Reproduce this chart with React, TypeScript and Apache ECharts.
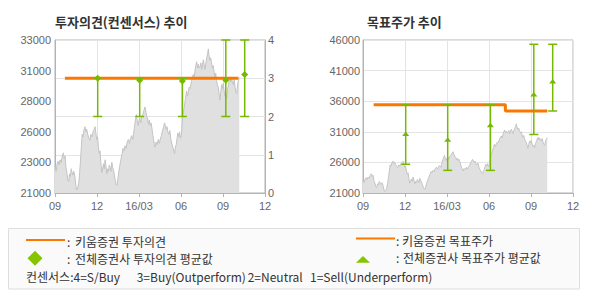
import React, { useEffect, useRef } from 'react';
import * as echarts from 'echarts';

// ---------- data ----------
const xTickLabels = ['09', '12', '16/03', '06', '09', '12'];
const opinionPriceTicks = ['21000', '23000', '26000', '28000', '31000', '33000'];
const targetPriceTicks = ['21000', '26000', '31000', '36000', '41000', '46000'];
const PRICE_BASE = 21000;

// [month offset from 2015-09, close price]
const priceSeries: [number, number][] = [
  [0.0, 23100], [0.08, 22700], [0.15, 23300], [0.22, 23500], [0.3, 23200], [0.36, 23600],
  [0.44, 23400], [0.52, 23900], [0.6, 24150], [0.66, 23700], [0.72, 23900], [0.78, 23000],
  [0.85, 22600], [0.92, 22000], [0.98, 21900], [1.04, 22500], [1.1, 22300], [1.16, 22900],
  [1.22, 22600], [1.28, 22400], [1.34, 22700], [1.42, 22300], [1.5, 21500], [1.56, 21250],
  [1.62, 21400], [1.7, 21800], [1.76, 22600], [1.82, 23500], [1.88, 24600], [1.94, 25600],
  [2.0, 25400], [2.06, 25900], [2.14, 26200], [2.2, 25800], [2.26, 26000], [2.34, 25600],
  [2.42, 25300], [2.5, 25150], [2.56, 25600], [2.64, 25400], [2.72, 25800], [2.8, 26000],
  [2.86, 26200], [2.92, 25700], [2.98, 25200], [3.04, 25400], [3.1, 24600], [3.16, 24100],
  [3.22, 24300], [3.28, 23300], [3.34, 22600], [3.4, 22900], [3.46, 23300], [3.52, 22900],
  [3.58, 23600], [3.64, 23100], [3.7, 22500], [3.76, 22900], [3.82, 22700], [3.88, 23200],
  [3.94, 23000], [4.0, 22700], [4.06, 23400], [4.12, 23000], [4.18, 22800], [4.24, 22400],
  [4.3, 22000], [4.36, 21700], [4.42, 21600], [4.48, 22000], [4.54, 22500], [4.6, 23000],
  [4.66, 23300], [4.72, 23700], [4.8, 24100], [4.86, 24500], [4.92, 24300], [5.0, 24700],
  [5.08, 24500], [5.16, 25000], [5.24, 25200], [5.32, 24900], [5.4, 25300], [5.48, 25500],
  [5.56, 25200], [5.62, 25700], [5.7, 26400], [5.76, 26800], [5.82, 27150], [5.88, 26600],
  [5.94, 26300], [6.0, 26700], [6.06, 26900], [6.12, 26500], [6.2, 27000], [6.28, 27200],
  [6.36, 27500], [6.43, 27750], [6.5, 27300], [6.56, 27000], [6.62, 26800], [6.68, 26400],
  [6.74, 26700], [6.8, 26300], [6.86, 26500], [6.92, 26100], [6.98, 25600], [7.04, 25200],
  [7.1, 24800], [7.16, 24600], [7.22, 25000], [7.3, 24800], [7.38, 25200], [7.46, 24900],
  [7.52, 25200], [7.6, 25500], [7.68, 25900], [7.76, 26200], [7.82, 26500], [7.88, 26300],
  [7.94, 26000], [8.0, 26200], [8.06, 25800], [8.12, 25600], [8.2, 25900], [8.28, 25200],
  [8.36, 24800], [8.42, 24600], [8.48, 24300], [8.54, 24100], [8.6, 24600], [8.66, 24800],
  [8.72, 25300], [8.78, 25700], [8.84, 25400], [8.9, 25800], [8.96, 25300], [9.02, 25500],
  [9.08, 26300], [9.14, 27200], [9.2, 27500], [9.26, 28000], [9.32, 28400], [9.4, 29000],
  [9.46, 28600], [9.52, 28900], [9.58, 29300], [9.64, 29200], [9.7, 29500], [9.76, 29800],
  [9.82, 30100], [9.88, 30300], [9.94, 30000], [10.0, 30600], [10.06, 31000], [10.12, 31300],
  [10.18, 30800], [10.24, 31100], [10.3, 30800], [10.36, 30900], [10.42, 31200], [10.48, 30700],
  [10.54, 31100], [10.6, 31450], [10.66, 31000], [10.72, 30700], [10.78, 31200], [10.84, 31600],
  [10.9, 31900], [10.95, 32300], [11.0, 31800], [11.06, 31400], [11.12, 31600], [11.18, 31200],
  [11.24, 30800], [11.3, 31000], [11.36, 30500], [11.42, 30100], [11.48, 30400], [11.54, 29800],
  [11.6, 29500], [11.66, 29300], [11.72, 28800], [11.78, 28300], [11.84, 28900], [11.9, 29500],
  [11.96, 29200], [12.02, 29600], [12.08, 29000], [12.14, 28600], [12.2, 28800], [12.26, 28400],
  [12.32, 29100], [12.38, 29400], [12.44, 29800], [12.5, 30100], [12.56, 29700], [12.62, 30000],
  [12.68, 29600], [12.74, 29500], [12.8, 29900], [12.86, 29300], [12.92, 28900], [12.98, 28800],
  [13.04, 29500], [13.1, 29800], [13.16, 30050],
];

const kiwoomOpinion: [number, number][] = [[0.71, 3], [13.1, 3]];
const kiwoomTarget: [number, number][] = [[0.76, 35400], [10.17, 35400], [10.17, 34400], [13.17, 34400]];

const consensusMonths = [3.05, 6.05, 9.1, 12.2, 13.55];
const opinionLow = [2, 2, 2, 2, 2];
const opinionHigh = [3, 3, 3, 4, 4];
const opinionMean = [3.0, 2.95, 2.93, 2.95, 3.1];
const targetLow = [25700, 24700, 24700, 30560, 34400];
const targetHigh = [35400, 35400, 35400, 45300, 45300];
const targetMean = [30560, 29630, 31970, 37000, 39120];

// ---------- styles ----------
const ORANGE = '#fa7800';
const GREEN = '#76b900';
const LEGEND_GREEN = '#84c400';
const BORDER = '#b4b4b4';
const GRIDLINE = '#e4e4e4';
const KR = '"Noto Sans CJK KR", sans-serif';
const axisLabelStyle = { color: '#666', fontSize: 11, fontFamily: '"Liberation Sans", Arial, sans-serif' };

const makeErrorBar = (marker: 'diamond' | 'triangle') => (_params: any, api: any) => {
  const x = api.value(0);
  const lo = api.coord([x, api.value(1)]);
  const hi = api.coord([x, api.value(2)]);
  const mid = api.coord([x, api.value(3)]);
  const cap = 4.5;
  const ls = { stroke: GREEN, lineWidth: 1.5 };
  const markerEl =
    marker === 'diamond'
      ? {
          type: 'polygon',
          shape: { points: [[mid[0], mid[1] - 3.5], [mid[0] + 3.5, mid[1]], [mid[0], mid[1] + 3.5], [mid[0] - 3.5, mid[1]]] },
          style: { fill: GREEN },
        }
      : {
          type: 'polygon',
          shape: { points: [[mid[0] - 3.5, mid[1] + 1.5], [mid[0] + 3.5, mid[1] + 1.5], [mid[0], mid[1] - 3]] },
          style: { fill: GREEN },
        };
  return {
    type: 'group',
    children: [
      { type: 'line', shape: { x1: lo[0], y1: lo[1], x2: hi[0], y2: hi[1] }, style: ls },
      { type: 'line', shape: { x1: lo[0] - cap, y1: lo[1], x2: lo[0] + cap, y2: lo[1] }, style: ls },
      { type: 'line', shape: { x1: hi[0] - cap, y1: hi[1], x2: hi[0] + cap, y2: hi[1] }, style: ls },
      markerEl,
    ],
  };
};

const xAxisFor = (gridIndex: number) => ({
  type: 'value',
  gridIndex,
  min: 0,
  max: 15,
  interval: 3,
  axisLine: { show: true, lineStyle: { color: BORDER } },
  axisTick: { show: true, length: 4, lineStyle: { color: BORDER } },
  axisLabel: { ...axisLabelStyle, margin: 7, formatter: (v: number) => xTickLabels[Math.round(v / 3)] ?? '' },
  splitLine: { show: true, lineStyle: { color: GRIDLINE } },
});

const txt = (text: string, x: number, y: number, font: string, fill = '#333') => ({
  type: 'text',
  x,
  y,
  style: { text, font, fill, verticalAlign: 'middle', align: 'left' },
});

export default function App() {
  const ref = useRef<HTMLDivElement>(null);

  useEffect(() => {
    if (!ref.current) return;
    const chart = echarts.init(ref.current, undefined, { renderer: 'svg' });

    const legendFont = `12px ${KR}`;
    const option: any = {
      animation: false,
      backgroundColor: '#ffffff',
      grid: [
        { left: 55, top: 40, width: 210, height: 153, show: true, borderColor: BORDER, borderWidth: 1, backgroundColor: 'transparent' },
        { left: 363, top: 40, width: 210, height: 153, show: true, borderColor: BORDER, borderWidth: 1, backgroundColor: 'transparent' },
      ],
      xAxis: [xAxisFor(0), xAxisFor(1)],
      yAxis: [
        {
          type: 'value',
          gridIndex: 0,
          position: 'left',
          min: 0,
          max: 12000,
          interval: 2400,
          axisLine: { show: true, lineStyle: { color: BORDER } },
          axisTick: { show: false },
          axisLabel: { ...axisLabelStyle, margin: 4, formatter: (v: number) => opinionPriceTicks[Math.round(v / 2400)] ?? '' },
          splitLine: { show: false },
        },
        {
          type: 'value',
          gridIndex: 0,
          position: 'right',
          min: 0,
          max: 4,
          interval: 1,
          axisLine: { show: true, lineStyle: { color: BORDER } },
          axisTick: { show: false },
          axisLabel: { ...axisLabelStyle, margin: 3 },
          splitLine: { show: true, lineStyle: { color: GRIDLINE } },
        },
        {
          type: 'value',
          gridIndex: 1,
          position: 'left',
          min: 0,
          max: 25000,
          interval: 5000,
          axisLine: { show: true, lineStyle: { color: BORDER } },
          axisTick: { show: false },
          axisLabel: { ...axisLabelStyle, margin: 3, formatter: (v: number) => targetPriceTicks[Math.round(v / 5000)] ?? '' },
          splitLine: { show: true, lineStyle: { color: GRIDLINE } },
        },
      ],
      series: [
        {
          type: 'line',
          xAxisIndex: 0,
          yAxisIndex: 0,
          data: priceSeries.map(([m, p]) => [m, p - PRICE_BASE]),
          symbol: 'none',
          lineStyle: { color: '#c4c4c4', width: 1 },
          areaStyle: { color: '#e0e0e0', opacity: 1, origin: 'start' },
          z: 1,
        },
        {
          type: 'line',
          xAxisIndex: 0,
          yAxisIndex: 1,
          data: kiwoomOpinion,
          symbol: 'none',
          lineStyle: { color: ORANGE, width: 3 },
          z: 3,
        },
        {
          type: 'custom',
          xAxisIndex: 0,
          yAxisIndex: 1,
          data: consensusMonths.map((m, i) => [m, opinionLow[i], opinionHigh[i], opinionMean[i]]),
          encode: { x: 0, y: [1, 2, 3] },
          renderItem: makeErrorBar('diamond'),
          z: 4,
        },
        {
          type: 'line',
          xAxisIndex: 1,
          yAxisIndex: 2,
          data: priceSeries.map(([m, p]) => [m, p - PRICE_BASE]),
          symbol: 'none',
          lineStyle: { color: '#c4c4c4', width: 1 },
          areaStyle: { color: '#e0e0e0', opacity: 1, origin: 'start' },
          z: 1,
        },
        {
          type: 'line',
          xAxisIndex: 1,
          yAxisIndex: 2,
          data: kiwoomTarget.map(([m, p]) => [m, p - PRICE_BASE]),
          symbol: 'none',
          lineStyle: { color: ORANGE, width: 3 },
          z: 3,
        },
        {
          type: 'custom',
          xAxisIndex: 1,
          yAxisIndex: 2,
          data: consensusMonths.map((m, i) => [m, targetLow[i] - PRICE_BASE, targetHigh[i] - PRICE_BASE, targetMean[i] - PRICE_BASE]),
          encode: { x: 0, y: [1, 2, 3] },
          renderItem: makeErrorBar('triangle'),
          z: 4,
        },
      ],
      graphic: [
        txt('투자의견(컨센서스) 추이', 55, 21, `bold 13px ${KR}`),
        txt('목표주가 추이', 367, 21, `bold 13px ${KR}`),
        {
          type: 'rect',
          shape: { x: 8.5, y: 228.5, width: 571, height: 60.5 },
          style: { fill: '#fafafa', stroke: '#dedede', lineWidth: 1 },
        },
        { type: 'line', shape: { x1: 26, y1: 240, x2: 65, y2: 240 }, style: { stroke: ORANGE, lineWidth: 2 } },
        txt(':', 67, 241, legendFont),
        txt('키움증권 투자의견', 75, 241.5, legendFont),
        { type: 'line', shape: { x1: 356, y1: 238.5, x2: 395, y2: 238.5 }, style: { stroke: ORANGE, lineWidth: 2 } },
        txt(':', 396, 240, legendFont),
        txt('키움증권 목표주가', 402, 240.7, legendFont),
        {
          type: 'polygon',
          shape: { points: [[35, 250.8], [42.5, 258.3], [35, 265.8], [27.5, 258.3]] },
          style: { fill: LEGEND_GREEN },
        },
        txt(':', 67, 258, legendFont),
        txt('전체증권사 투자의견 평균값', 75, 258.3, legendFont),
        {
          type: 'polygon',
          shape: { points: [[356, 262.7], [370, 262.7], [363, 256]] },
          style: { fill: LEGEND_GREEN },
        },
        txt(':', 396, 257.5, legendFont),
        txt('전체증권사 목표주가 평균값', 403, 257.5, legendFont),
        txt('컨센서스:4=S/Buy', 26, 276.7, legendFont),
        txt('3=Buy(Outperform)', 136.7, 276.7, legendFont),
        txt('2=Neutral', 247.7, 276.7, legendFont),
        txt('1=Sell(Underperform)', 310, 276.7, legendFont),
      ],
    };

    chart.setOption(option);
    return () => chart.dispose();
  }, []);

  return <div ref={ref} style={{ position: 'absolute', left: 0, top: 0, width: 590, height: 300 }} />;
}
